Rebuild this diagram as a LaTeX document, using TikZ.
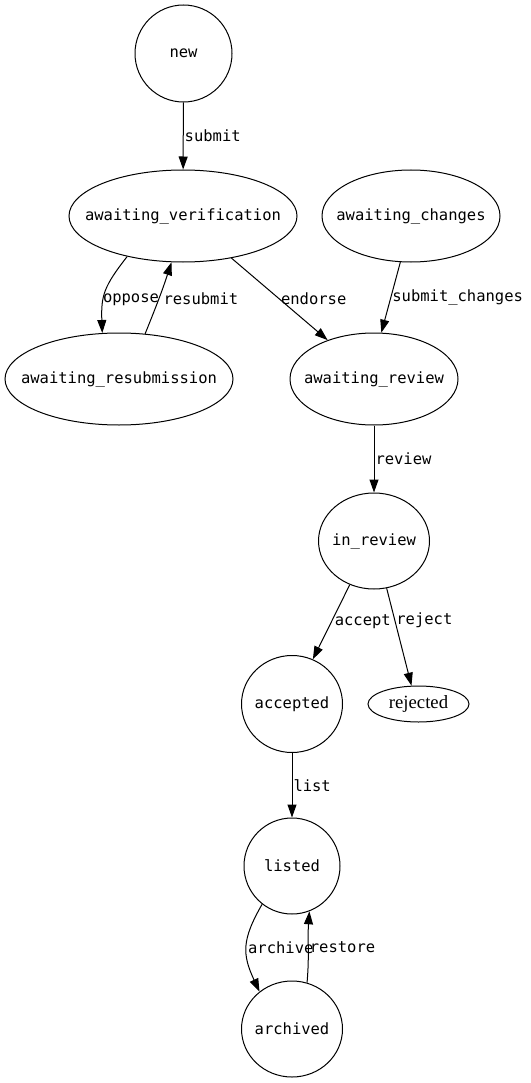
\documentclass[tikz,border=0pt]{standalone}
\usepackage{fontspec}
\setmonofont{DejaVu Sans Mono}
\newfontfamily\rejfont{Liberation Serif}
\usetikzlibrary{shapes.geometric,arrows.meta}

\begin{document}
\begin{tikzpicture}[x=1pt,y=-1pt,
  font=\ttfamily\fontsize{15.5}{18}\selectfont,
  st/.style={draw,ellipse,line width=1pt,inner sep=0pt},
  tr/.style={-{Triangle[length=13pt,width=9pt]},line width=1pt},
  lbl/.style={right,inner sep=1pt}]
\useasboundingbox (0,0) rectangle (530,1083);
% states
\node[st,minimum width=97,minimum height=97,label=center:new] (new) at (183.5,53.5) {};
\node[st,minimum width=228,minimum height=92,label=center:awaiting\_verification] (av) at (183,216) {};
\node[st,minimum width=178,minimum height=92,label=center:awaiting\_changes] (ac) at (411,216) {};
\node[st,minimum width=228,minimum height=92,label=center:awaiting\_resubmission] (ars) at (119,379) {};
\node[st,minimum width=168,minimum height=92,label=center:awaiting\_review] (arv) at (374,379) {};
\node[st,minimum width=111,minimum height=96,label=center:in\_review] (inr) at (374,541) {};
\node[st,minimum width=101,minimum height=97,label=center:accepted] (acc) at (292,704) {};
\node[st,minimum width=101,minimum height=36,label={center:{\rejfont\fontsize{18.7}{20}\selectfont rejected}}] (rej) at (418.5,704) {};
\node[st,minimum width=96,minimum height=96,label=center:listed] (lst) at (292,866) {};
\node[st,minimum width=101,minimum height=96,label=center:archived] (arc) at (292,1029) {};

% transitions
\draw[tr] (new) -- (av) node[lbl,midway]{submit};
\draw[tr] (av.216) to[out=232,in=92,looseness=1.2] node[lbl,pos=0.62,xshift=-2pt]{oppose} (ars.110);
\draw[tr] (ars.60) to[out=68,in=252] node[lbl,pos=0.5,xshift=3pt]{resubmit} (av.256);
\draw[tr] (av.319) -- (arv.140) node[lbl,midway]{endorse};
\draw[tr] (ac.257) -- (arv.81.5) node[lbl,midway]{submit\_changes};
\draw[tr] (arv) -- (inr) node[lbl,midway]{review};
\draw[tr] (inr.241.5) -- (acc.65.5) node[lbl,midway,xshift=2pt]{accept};
\draw[tr] (inr.285.5) -- (rej.111) node[lbl,pos=0.33]{reject};
\draw[tr] (acc) -- (lst) node[lbl,midway]{list};
\draw[tr] (lst.232) to[out=240,in=115,looseness=1.2] node[lbl,pos=0.5]{archive} (arc.131.5);
\draw[tr] (arc.72) to[out=85,in=266] node[lbl,pos=0.5]{restore} (lst.291);
\end{tikzpicture}
\end{document}
